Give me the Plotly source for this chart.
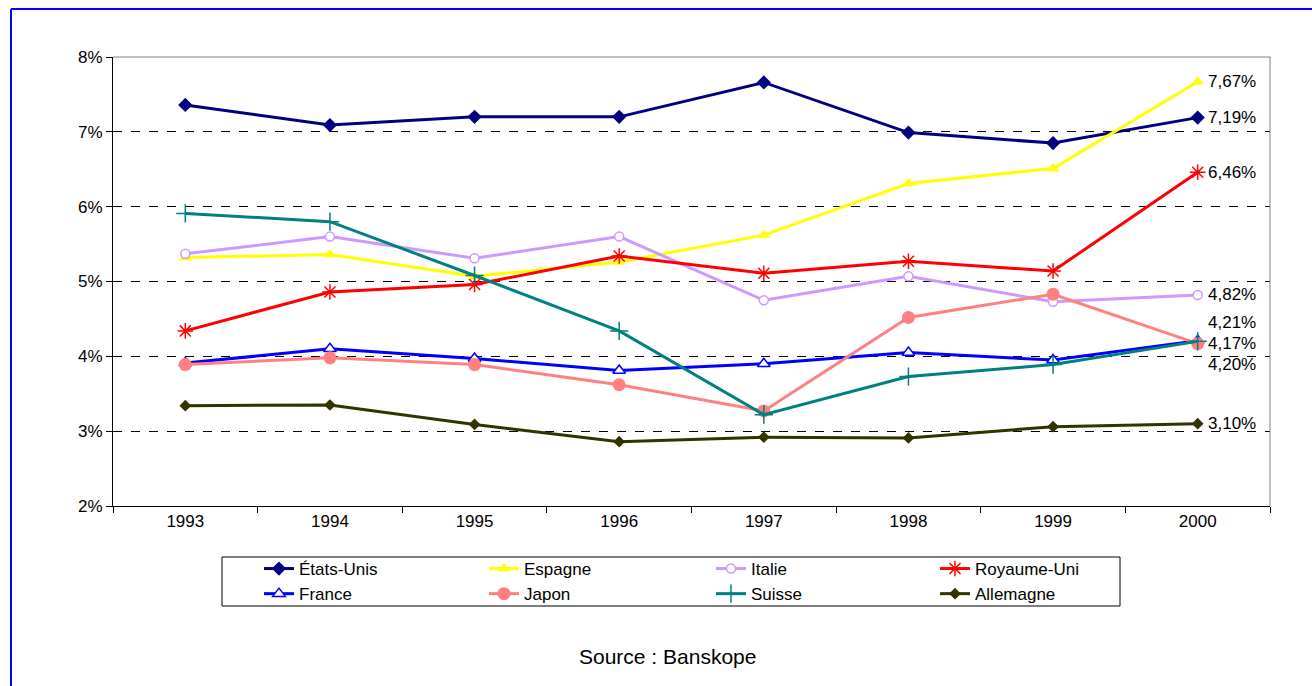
import plotly.graph_objects as go

# Taux par pays, 1993-2000 (en %)
years = ["1993", "1994", "1995", "1996", "1997", "1998", "1999", "2000"]

etats_unis = [7.36, 7.09, 7.20, 7.20, 7.66, 6.99, 6.85, 7.19]
espagne = [5.32, 5.36, 5.07, 5.26, 5.62, 6.31, 6.51, 7.67]
italie = [5.37, 5.60, 5.31, 5.60, 4.75, 5.07, 4.73, 4.82]
royaume_uni = [4.34, 4.86, 4.96, 5.34, 5.11, 5.27, 5.14, 6.46]
france = [3.91, 4.10, 3.97, 3.81, 3.90, 4.05, 3.95, 4.21]
japon = [3.89, 3.98, 3.89, 3.62, 3.27, 4.52, 4.83, 4.17]
suisse = [5.91, 5.80, 5.08, 4.34, 3.22, 3.73, 3.89, 4.20]
allemagne = [3.34, 3.35, 3.09, 2.86, 2.92, 2.91, 3.06, 3.10]

W, H = 1312, 686
ML, MR, MT, MB = 113, 42, 57, 180
PW, PH = W - ML - MR, H - MT - MB


def px_x(p):
    return (p - ML) / PW


def px_y(p):
    return 1 - (p - MT) / PH


FONT = "Liberation Sans, Arial, sans-serif"

# name, values, colour, marker, legend column
series = [
    ("États-Unis", etats_unis, "#000080", dict(symbol="diamond", size=11, color="#000080"), 1),
    ("Espagne", espagne, "#FFFF00", dict(symbol="triangle-up", size=11, color="#FFFF00"), 2),
    ("Italie", italie, "#CC99FF", dict(symbol="circle", size=9, color="white",
                                        line=dict(color="#CC99FF", width=1.5)), 3),
    ("Royaume-Uni", royaume_uni, "#FF0000", dict(symbol="asterisk-open", size=13,
                                                  line=dict(color="#FF0000", width=1.5)), 4),
    ("France", france, "#0000FF", dict(symbol="triangle-up", size=11, color="white",
                                        line=dict(color="#0000FF", width=1.5)), 1),
    ("Japon", japon, "#FF8080", dict(symbol="circle", size=13, color="#FF8080"), 2),
    ("Suisse", suisse, "#008080", dict(symbol="cross-thin-open", size=13,
                                        line=dict(color="#008080", width=1.5)), 3),
    ("Allemagne", allemagne, "#333300", dict(symbol="diamond", size=9, color="#333300"), 4),
]

fig = go.Figure()
for name, vals, col, mk, leg in series:
    fig.add_trace(go.Scatter(
        x=years, y=vals, name=name, mode="lines+markers",
        line=dict(color=col, width=3), marker=mk,
        legend="legend" if leg == 1 else f"legend{leg}",
    ))

# value labels at the last year (category index on the x axis);
# the three labels near 4.2 % are stacked so they stay readable
label_shift = {"France": 18, "Japon": 0, "Suisse": -23}
for name, vals, col, mk, leg in series:
    fig.add_annotation(
        x=len(years) - 1, y=vals[-1], xref="x", yref="y",
        text=f"{vals[-1]:.2f}%".replace(".", ","),
        showarrow=False, xanchor="left", yanchor="middle",
        xshift=8, yshift=label_shift.get(name, 0),
        font=dict(family=FONT, size=17, color="black"),
    )

fig.add_annotation(
    x=px_x(667), y=px_y(656), xref="paper", yref="paper",
    text="Source : Banskope", showarrow=False,
    xanchor="center", yanchor="middle",
    font=dict(family=FONT, size=21, color="black"),
)

shapes = [
    # outer frame
    dict(type="line", xref="paper", yref="paper",
         x0=px_x(11), x1=px_x(11), y0=px_y(9), y1=px_y(H + 5),
         line=dict(color="#0000FF", width=2)),
    dict(type="line", xref="paper", yref="paper",
         x0=px_x(11), x1=px_x(W + 5), y0=px_y(9), y1=px_y(9),
         line=dict(color="#0000FF", width=2)),
    # plot area border, top and right
    dict(type="line", xref="paper", yref="paper", x0=0, x1=1, y0=1, y1=1,
         line=dict(color="#808080", width=1), layer="above"),
    dict(type="line", xref="paper", yref="paper", x0=1, x1=1, y0=0, y1=1,
         line=dict(color="#808080", width=1), layer="above"),
    # legend box
    dict(type="rect", xref="paper", yref="paper",
         x0=px_x(222), x1=px_x(1120), y0=px_y(557), y1=px_y(606),
         line=dict(color="black", width=1), fillcolor="rgba(0,0,0,0)"),
]


def legend_column(x_px):
    return dict(
        orientation="v", x=px_x(x_px), y=px_y(551),
        xanchor="left", yanchor="top",
        bgcolor="rgba(0,0,0,0)", borderwidth=0,
        font=dict(family=FONT, size=17), itemwidth=30, tracegroupgap=0,
    )


fig.update_layout(
    width=W, height=H,
    margin=dict(l=ML, r=MR, t=MT, b=MB),
    paper_bgcolor="white", plot_bgcolor="white",
    font=dict(family=FONT, size=17, color="black"),
    shapes=shapes,
    showlegend=True,
    legend=legend_column(259),
    legend2=legend_column(484),
    legend3=legend_column(711),
    legend4=legend_column(935),
    xaxis=dict(
        type="category", tickson="boundaries", ticks="outside", ticklen=6,
        tickcolor="black", showline=True, linecolor="black", linewidth=1,
        showgrid=False, tickfont=dict(size=17), range=[-0.5, 7.5],
    ),
    yaxis=dict(
        range=[2, 8], dtick=1, ticksuffix="%", ticks="outside", ticklen=6,
        tickcolor="black", showline=True, linecolor="black", linewidth=1,
        showgrid=True, gridcolor="black", griddash="dash", gridwidth=1,
        zeroline=False, tickfont=dict(size=17),
    ),
)

fig.write_html("out.html")
